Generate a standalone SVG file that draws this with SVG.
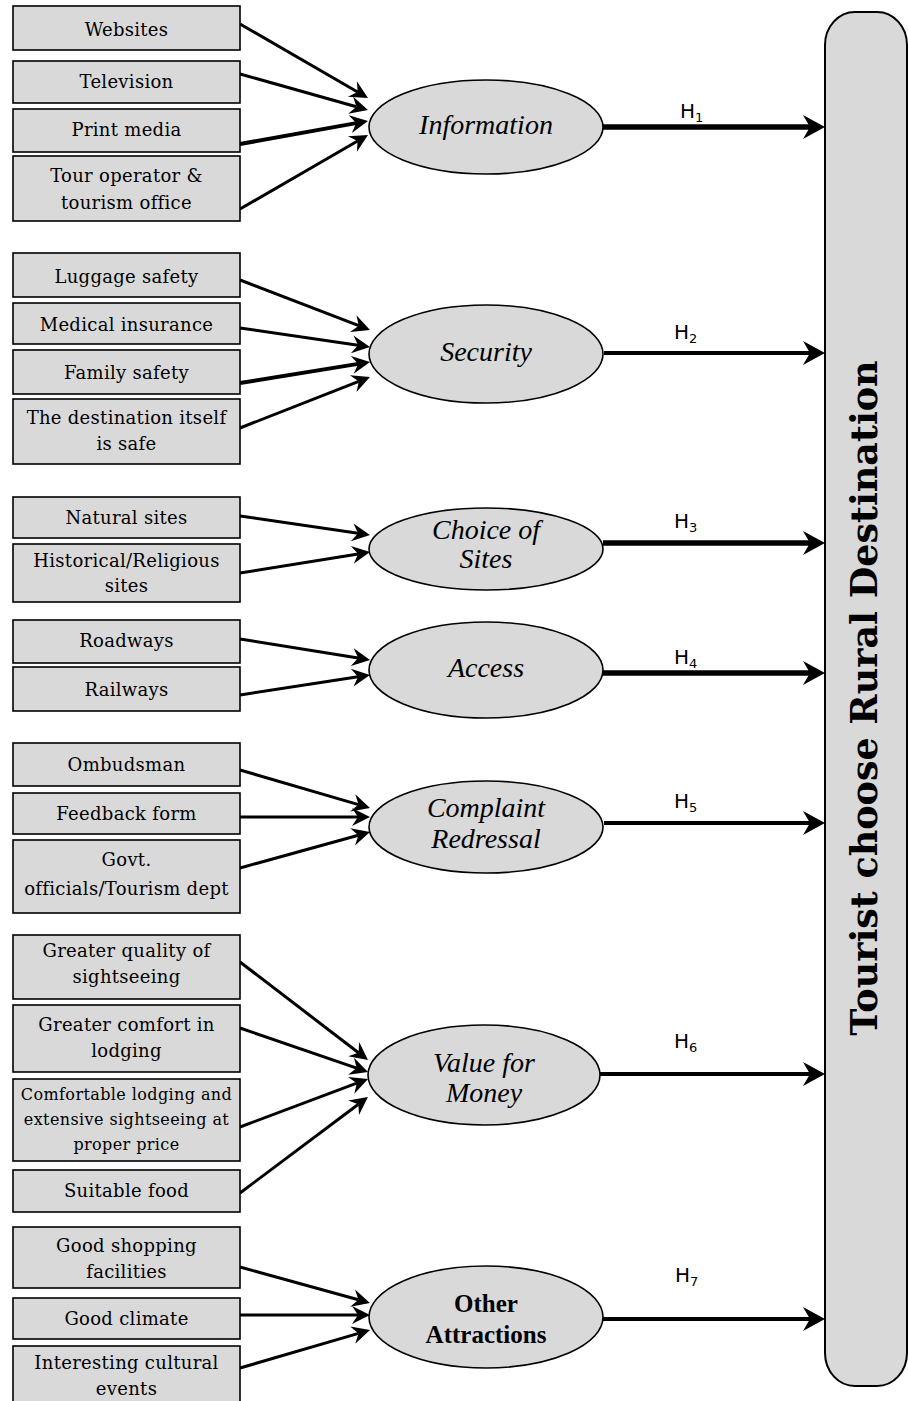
<svg xmlns="http://www.w3.org/2000/svg" width="908" height="1401" viewBox="0 0 908 1401">
<style>
.box{fill:#d9d9d9;stroke:#000;stroke-width:1.6}
.ell{fill:#d9d9d9;stroke:#000;stroke-width:1.6}
.bt{font-family:"DejaVu Serif",serif;font-size:18px;text-anchor:middle;letter-spacing:0.3px;fill:#000}
.sm{font-size:16px;letter-spacing:0.4px}
.et{font-family:"Liberation Serif",serif;font-style:italic;font-size:28px;text-anchor:middle;fill:#000}
.eb{font-family:"Liberation Serif",serif;font-weight:bold;font-size:25px;text-anchor:middle;fill:#000}
.h{font-family:"DejaVu Sans",sans-serif;font-size:20px;fill:#000}
.sub{font-size:13px}
.in{stroke:#000;stroke-width:3;fill:none;marker-end:url(#ai)}
.out{stroke:#000;stroke-width:4;fill:none;marker-end:url(#ao)}
.thk{stroke-width:5.5}
.tt{font-family:"DejaVu Serif",serif;font-weight:bold;font-size:36.5px;text-anchor:middle;fill:#000}
</style>
<defs>
<marker id="ai" markerUnits="userSpaceOnUse" viewBox="-10 -12 26 24" markerWidth="26" markerHeight="24" refX="0" refY="0" orient="auto" overflow="visible">
<path d="M12,0 L-6,-9 L0,0 L-6,9 Z" fill="#000"/>
</marker>
<marker id="ao" markerUnits="userSpaceOnUse" viewBox="-10 -14 28 28" markerWidth="28" markerHeight="28" refX="0" refY="0" orient="auto" overflow="visible">
<path d="M15,0 L-7,-12 L0,0 L-7,12 Z" fill="#000"/>
</marker>
</defs>
<rect width="908" height="1401" fill="#fff"/>

<g id="connectors">
<line class="in" x1="240" y1="24" x2="357.6" y2="92"/>
<line class="in" x1="240" y1="74" x2="356.4" y2="106.7"/>
<line class="in" x1="240" y1="144" x2="356.2" y2="123.1" style="stroke-width:4"/>
<line class="in" x1="240" y1="209" x2="357.6" y2="141"/>
<line class="in" x1="240" y1="280" x2="358.8" y2="325.7"/>
<line class="in" x1="240" y1="328" x2="358.1" y2="345.3"/>
<line class="in" x1="240" y1="383" x2="358.2" y2="363.9" style="stroke-width:4"/>
<line class="in" x1="240" y1="428" x2="358.8" y2="381.4"/>
<line class="in" x1="240" y1="516" x2="358.1" y2="533.3"/>
<line class="in" x1="240" y1="573" x2="358.2" y2="553.9"/>
<line class="in" x1="240" y1="639" x2="358.2" y2="658.1"/>
<line class="in" x1="240" y1="695" x2="358.1" y2="676.8"/>
<line class="in" x1="240" y1="770" x2="358.5" y2="804.6"/>
<line class="in" x1="240" y1="817" x2="358" y2="817"/>
<line class="in" x1="240" y1="868" x2="358.4" y2="835.2"/>
<line class="in" x1="240" y1="962" x2="358.5" y2="1052.7"/>
<line class="in" x1="240" y1="1028" x2="356.7" y2="1068.1"/>
<line class="in" x1="240" y1="1127" x2="356.8" y2="1083.2"/>
<line class="in" x1="240" y1="1193" x2="358.4" y2="1104.2"/>
<line class="in" x1="240" y1="1267" x2="358.4" y2="1299.8"/>
<line class="in" x1="240" y1="1315" x2="358" y2="1315"/>
<line class="in" x1="240" y1="1368" x2="358.5" y2="1333.4"/>
<line class="out thk" x1="603" y1="127" x2="810" y2="127"/>
<line class="out" x1="604" y1="353" x2="810" y2="353"/>
<line class="out thk" x1="603" y1="543" x2="810" y2="543"/>
<line class="out thk" x1="603" y1="673" x2="810" y2="673"/>
<line class="out" x1="604" y1="823" x2="810" y2="823"/>
<line class="out" x1="600" y1="1074" x2="810" y2="1074"/>
<line class="out" x1="603" y1="1319" x2="810" y2="1319"/>
<text class="h" x="680" y="118">H<tspan class="sub" dy="4">1</tspan></text>
<text class="h" x="674" y="339">H<tspan class="sub" dy="4">2</tspan></text>
<text class="h" x="674" y="528">H<tspan class="sub" dy="4">3</tspan></text>
<text class="h" x="674" y="664">H<tspan class="sub" dy="4">4</tspan></text>
<text class="h" x="674" y="808">H<tspan class="sub" dy="4">5</tspan></text>
<text class="h" x="674" y="1048">H<tspan class="sub" dy="4">6</tspan></text>
<text class="h" x="675" y="1282">H<tspan class="sub" dy="4">7</tspan></text>
</g>

<g id="n-websites"><rect class="box" x="13" y="6" width="227" height="44"/><text class="bt" x="126.5" y="36">Websites</text></g>
<g id="n-television"><rect class="box" x="13" y="61" width="227" height="42"/><text class="bt" x="126.5" y="88">Television</text></g>
<g id="n-print"><rect class="box" x="13" y="109" width="227" height="43"/><text class="bt" x="126.5" y="136">Print media</text></g>
<g id="n-tour"><rect class="box" x="13" y="156" width="227" height="65"/><text class="bt" x="126.5" y="182">Tour operator &amp;</text><text class="bt" x="126.5" y="209">tourism office</text></g>

<g id="n-luggage"><rect class="box" x="13" y="253" width="227" height="44"/><text class="bt" x="126.5" y="283">Luggage safety</text></g>
<g id="n-medical"><rect class="box" x="13" y="303" width="227" height="41"/><text class="bt" x="126.5" y="331">Medical insurance</text></g>
<g id="n-family"><rect class="box" x="13" y="350" width="227" height="44"/><text class="bt" x="126.5" y="379">Family safety</text></g>
<g id="n-destsafe"><rect class="box" x="13" y="399" width="227" height="65"/><text class="bt" x="126.5" y="424">The destination itself</text><text class="bt" x="126.5" y="450">is safe</text></g>

<g id="n-natural"><rect class="box" x="13" y="497" width="227" height="41"/><text class="bt" x="126.5" y="524">Natural sites</text></g>
<g id="n-historical"><rect class="box" x="13" y="544" width="227" height="58"/><text class="bt" x="126.5" y="567">Historical/Religious</text><text class="bt" x="126.5" y="592">sites</text></g>

<g id="n-roadways"><rect class="box" x="13" y="620" width="227" height="43"/><text class="bt" x="126.5" y="647">Roadways</text></g>
<g id="n-railways"><rect class="box" x="13" y="667" width="227" height="44"/><text class="bt" x="126.5" y="696">Railways</text></g>

<g id="n-ombudsman"><rect class="box" x="13" y="743" width="227" height="43"/><text class="bt" x="126.5" y="771">Ombudsman</text></g>
<g id="n-feedback"><rect class="box" x="13" y="793" width="227" height="41"/><text class="bt" x="126.5" y="820">Feedback form</text></g>
<g id="n-govt"><rect class="box" x="13" y="840" width="227" height="73"/><text class="bt" x="126.5" y="866">Govt.</text><text class="bt" x="126.5" y="895">officials/Tourism dept</text></g>

<g id="n-quality"><rect class="box" x="13" y="935" width="227" height="64"/><text class="bt" x="126.5" y="957">Greater quality of</text><text class="bt" x="126.5" y="983">sightseeing</text></g>
<g id="n-comfort"><rect class="box" x="13" y="1005" width="227" height="67"/><text class="bt" x="126.5" y="1031">Greater comfort in</text><text class="bt" x="126.5" y="1057">lodging</text></g>
<g id="n-comfortable"><rect class="box" x="13" y="1079" width="227" height="82"/><text class="bt sm" x="126.5" y="1100">Comfortable lodging and</text><text class="bt sm" x="126.5" y="1125">extensive sightseeing at</text><text class="bt sm" x="126.5" y="1150">proper price</text></g>
<g id="n-food"><rect class="box" x="13" y="1170" width="227" height="42"/><text class="bt" x="126.5" y="1197">Suitable food</text></g>

<g id="n-shopping"><rect class="box" x="13" y="1227" width="227" height="61"/><text class="bt" x="126.5" y="1252">Good shopping</text><text class="bt" x="126.5" y="1278">facilities</text></g>
<g id="n-climate"><rect class="box" x="13" y="1298" width="227" height="41"/><text class="bt" x="126.5" y="1325">Good climate</text></g>
<g id="n-cultural"><rect class="box" x="13" y="1346" width="227" height="58"/><text class="bt" x="126.5" y="1369">Interesting cultural</text><text class="bt" x="126.5" y="1395">events</text></g>

<g id="n-information"><ellipse class="ell" cx="486" cy="127" rx="117" ry="47"/><text class="et" x="486" y="134">Information</text></g>
<g id="n-security"><ellipse class="ell" cx="486" cy="354" rx="117" ry="49"/><text class="et" x="486" y="361">Security</text></g>
<g id="n-choice"><ellipse class="ell" cx="486" cy="549" rx="117" ry="41"/><text class="et" x="486" y="539">Choice of</text><text class="et" x="486" y="568">Sites</text></g>
<g id="n-access"><ellipse class="ell" cx="486" cy="670" rx="117" ry="48"/><text class="et" x="486" y="677">Access</text></g>
<g id="n-complaint"><ellipse class="ell" cx="486" cy="827" rx="117" ry="46"/><text class="et" x="486" y="817">Complaint</text><text class="et" x="486" y="848">Redressal</text></g>
<g id="n-value"><ellipse class="ell" cx="484" cy="1075" rx="116" ry="50"/><text class="et" x="484" y="1072">Value for</text><text class="et" x="484" y="1102">Money</text></g>
<g id="n-other"><ellipse class="ell" cx="486" cy="1317" rx="117" ry="51"/><text class="eb" x="486" y="1312">Other</text><text class="eb" x="486" y="1343">Attractions</text></g>

<g id="n-tourist"><rect class="box" x="825" y="12" width="82" height="1374" rx="30" ry="33" style="stroke-width:2"/><text class="tt" transform="translate(877,698) rotate(-90)" x="0" y="0">Tourist choose Rural Destination</text></g>
</svg>
